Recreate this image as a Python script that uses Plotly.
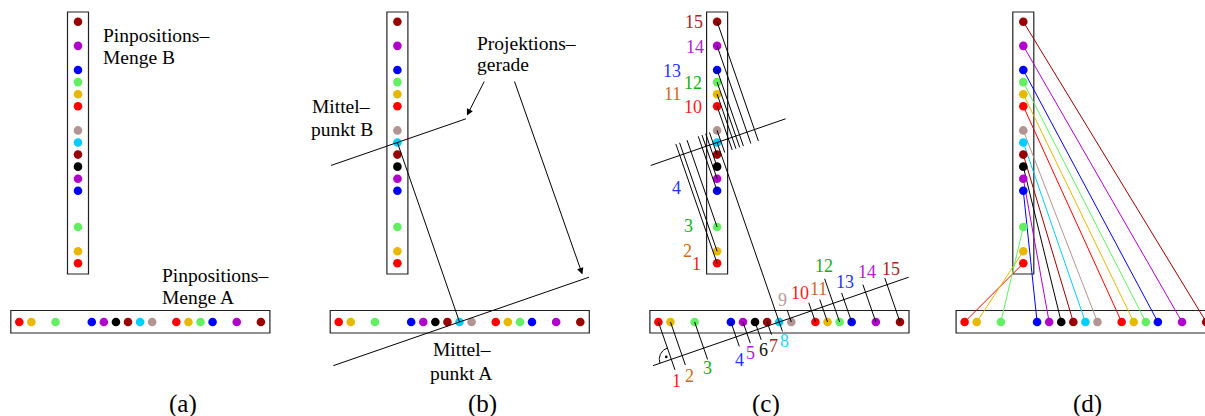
import numpy as np
import plotly.graph_objects as go

# ---------------- data ----------------
pin_ids = list(range(1, 16))
pin_pos_A = [0, 1, 3, 6, 7, 8, 9, 10, 11, 13, 14, 15, 16, 18, 20]   # positions along set A (pitch units)
pin_pos_B = [0, 1, 3, 6, 7, 8, 9, 10, 11, 13, 14, 15, 16, 18, 20]   # positions along set B (pitch units)
pin_colors = ["#ff0000", "#e8b800", "#62f062", "#0000ff", "#b000cc", "#000000", "#990000", "#00ccff",
              "#b39494", "#ff0000", "#e8b800", "#62f062", "#0000ff", "#b000cc", "#990000"]
label_colors = ["#ff1a1a", "#cc6a1a", "#10b010", "#2233ff", "#b020d0", "#111111", "#aa2222", "#33ccff",
                "#b89c9c", "#ff1a1a", "#cc6a1a", "#10b010", "#2233ff", "#b020d0", "#aa2222"]
panel_labels = ["(a)", "(b)", "(c)", "(d)"]
text_set_B = ["Pinpositions–", "Menge B"]
text_set_A = ["Pinpositions–", "Menge A"]
text_mid_B = ["Mittel–", "punkt B"]
text_mid_A = ["Mittel–", "punkt A"]
text_proj = ["Projektions–", "gerade"]

# ---------------- layout constants (pixels) ----------------
W, H = 1205, 416
PITCH = 12.08
PANEL_OFF = [0.0, 319.4, 639.1, 945.3]
BX, BY0 = 78.0, 263.3        # column of set B, y of pin at position 0
AX0, AY = 19.3, 322.0        # row of set A
FONT = "Liberation Serif"

# per-pin overshoot of projection ticks in (c)
over_A = [11, 10, 12, 10, 10.6, 11, 9.5, 10, 9, 8.5, 8, 26, 7, 8, 7]
over_B = 12
# label offsets in (c) relative to the pin dot
lab_off_A = [(18.3, 59.2), (18.8, 54.3), (12.9, 46.3), (8.5, 37.7), (7.6, 31.3), (8, 28.3), (5.9, 24.3),
             (5.4, 18.8), (-8.7, -22), (-15.4, -29.5), (-9.2, -32.8), (-15.4, -56.5), (-7, -40.3),
             (-9.1, -49.8), (-9.2, -53.2)]
lab_off_B = {15: (-23.5, 0.5), 14: (-22.6, 1.5), 13: (-45.3, 0.7), 12: (-24.6, 1.0), 11: (-44.8, 0.2),
             10: (-24.5, 0.3), 4: (-40.3, -2.6), 3: (-28.5, -1.0), 2: (-29.3, 0.0), 1: (-20.6, 0.4)}

pa = np.array(pin_pos_A, float)
pb = np.array(pin_pos_B, float)
cen_A = (pa.min() + pa.max()) / 2
cen_B = (pb.min() + pb.max()) / 2


def A_pts(off):
    return AX0 + off + PITCH * pa, np.full(len(pa), AY)


def B_pts(off):
    return np.full(len(pb), BX + off), BY0 - PITCH * pb


fig = go.Figure()
shapes = []
ann = []


def seg_trace(xs, ys, color="black", width=1.0):
    fig.add_trace(go.Scatter(x=xs, y=ys, mode="lines", line=dict(color=color, width=width),
                             hoverinfo="skip", showlegend=False))


def dots(off):
    ax, ay = A_pts(off)
    bx, by = B_pts(off)
    fig.add_trace(go.Scatter(x=list(ax) + list(bx), y=list(ay) + list(by), mode="markers",
                             marker=dict(size=8.6, color=pin_colors + pin_colors, line=dict(width=0)),
                             hoverinfo="skip", showlegend=False))


def boxes(off):
    shapes.append(dict(type="rect", xref="x", yref="y", x0=BX + off - 10.5, x1=BX + off + 10.5,
                       y0=12, y1=274, line=dict(color="#222", width=1.2), layer="below"))
    shapes.append(dict(type="rect", xref="x", yref="y", x0=AX0 + off - 8.5, x1=AX0 + off + PITCH * pa.max() + 9,
                       y0=310.5, y1=333, line=dict(color="#222", width=1.2), layer="below"))


def text(x, y, s, size=19.5, color="black", anchor="left"):
    ann.append(dict(x=x, y=y, xref="x", yref="y", text=s, showarrow=False, xanchor=anchor,
                    yanchor="middle", borderpad=0, borderwidth=0,
                    font=dict(family=FONT, size=size, color=color)))


for k, off in enumerate(PANEL_OFF):
    boxes(off)

# geometry of the projection lines
cB = np.array([BX, BY0 - PITCH * cen_B])
cA = np.array([AX0 + PITCH * cen_A, AY])
n = (cA - cB) / np.linalg.norm(cA - cB)
u = np.array([n[1], -n[0]])
UP_T = (-70.2, 72.5)
LO_T = (-133.5, 137.0)

# ---------- (a) ----------
off = PANEL_OFF[0]
dots(off)
text(102.7, 35.3, text_set_B[0]); text(102.7, 57.3, text_set_B[1])
text(161.7, 275.5, text_set_A[0]); text(161.7, 297.3, text_set_A[1])

# ---------- (b) ----------
off = PANEL_OFF[1]
dots(off)
o = np.array([off, 0])
p1, p2 = cB + o + UP_T[0] * u, cB + o + UP_T[1] * u
q1, q2 = cA + o + LO_T[0] * u, cA + o + LO_T[1] * u
seg_trace([p1[0], p2[0], None, q1[0], q2[0], None, cB[0] + off, cA[0] + off],
          [p1[1], p2[1], None, q1[1], q2[1], None, cB[1], cA[1]])
text(312.2, 106.5, text_mid_B[0]); text(311, 129, text_mid_B[1])
text(476.7, 43.0, text_proj[0]); text(476.7, 64.5, text_proj[1])
text(432.7, 349.8, text_mid_A[0]); text(430, 373.0, text_mid_A[1])
for tip, tail in [((p2[0] + 1.0, p2[1] - 3.3), (485.0, 80.0)), ((q2[0] - 6.6, q2[1] - 2.8), (514.0, 80.0))]:
    ann.append(dict(x=tip[0], y=tip[1], ax=tail[0], ay=tail[1], xref="x", yref="y", axref="x", ayref="y",
                    text="", showarrow=True, arrowhead=2, arrowsize=1.3, arrowwidth=1, arrowcolor="black"))

# ---------- (c) ----------
off = PANEL_OFF[2]
dots(off)
o = np.array([off, 0])
p1, p2 = cB + o + UP_T[0] * u, cB + o + UP_T[1] * u
q1, q2 = cA + o + LO_T[0] * u, cA + o + LO_T[1] * u
xs = [p1[0], p2[0], None, q1[0], q2[0], None, cB[0] + off, cA[0] + off, None]
ys = [p1[1], p2[1], None, q1[1], q2[1], None, cB[1], cA[1], None]
ax_, ay_ = A_pts(off)
bx_, by_ = B_pts(off)
feet_A = []
for i in range(15):
    P = np.array([ax_[i], ay_[i]])
    s = np.dot(P - (cA + o), n)
    foot = P - s * n
    feet_A.append(foot)
    d = -np.sign(s) * n if s != 0 else n
    end = foot + over_A[i] * d
    xs += [P[0], end[0], None]; ys += [P[1], end[1], None]
    text(P[0] + lab_off_A[i][0], P[1] + lab_off_A[i][1], str(pin_ids[i]), size=18,
         color=label_colors[i], anchor="center")
for i in range(15):
    P = np.array([bx_[i], by_[i]])
    s = np.dot(P - (cB + o), n)
    if s == 0:
        continue
    foot = P - s * n
    d = -np.sign(s) * n
    end = foot + over_B * d
    xs += [P[0], end[0], None]; ys += [P[1], end[1], None]
    if pin_ids[i] in lab_off_B:
        dx, dy = lab_off_B[pin_ids[i]]
        text(P[0] + dx, P[1] + dy, str(pin_ids[i]), size=18, color=label_colors[i], anchor="center")
# right-angle mark at the foot of pin 1
f = feet_A[0]
a0 = np.arctan2(-u[1], -u[0]); a1 = np.arctan2(-n[1], -n[0])
if a1 < a0:
    a1 += 2 * np.pi
th = np.linspace(a0, a1, 20)
xs += list(f[0] + 12 * np.cos(th)) + [None]
ys += list(f[1] + 12 * np.sin(th)) + [None]
seg_trace(xs, ys)
bis = -(u + n) / np.linalg.norm(u + n)
fig.add_trace(go.Scatter(x=[f[0] + 5.6 * bis[0]], y=[f[1] + 5.6 * bis[1]], mode="markers",
                         marker=dict(size=2.6, color="black"), hoverinfo="skip", showlegend=False))

# ---------- (d) ----------
off = PANEL_OFF[3]
ax_, ay_ = A_pts(off)
bx_, by_ = B_pts(off)
for i in range(15):
    seg_trace([bx_[i], ax_[i]], [by_[i], ay_[i]], color=pin_colors[i], width=1.0)
dots(off)

# panel captions
for k, lbl in enumerate(panel_labels):
    cx = [183.0, 482.7, 766.0, 1087.7][k]
    text(cx, 404.0, lbl, size=25, anchor="center")

fig.update_layout(
    width=W, height=H, margin=dict(l=0, r=0, t=0, b=0),
    paper_bgcolor="white", plot_bgcolor="white",
    xaxis=dict(range=[0, W], visible=False, fixedrange=True),
    yaxis=dict(range=[H, 0], visible=False, fixedrange=True),
    shapes=shapes, annotations=ann, showlegend=False,
)
fig.write_html("out.html", config={"displayModeBar": False},
               post_script="document.body.style.margin='0';document.body.style.padding='0';"
                           "document.body.style.overflow='hidden';")
